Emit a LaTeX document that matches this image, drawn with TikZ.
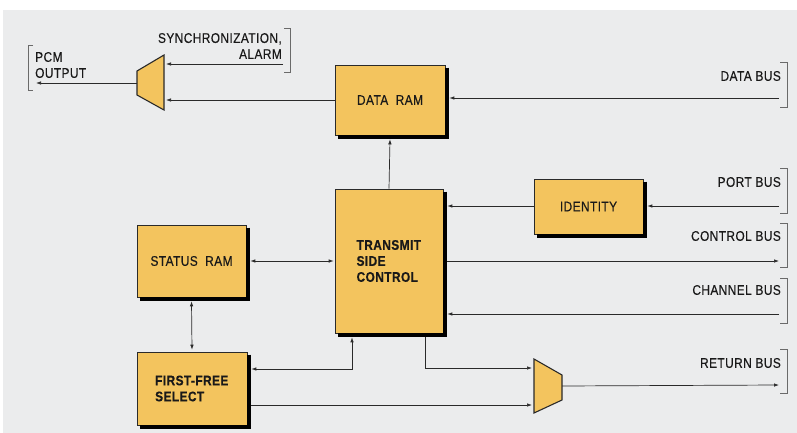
\documentclass[tikz,border=0pt]{standalone}
\usepackage{fontspec}
\setmainfont{Liberation Sans}[FakeStretch=0.85,LetterSpace=3,FakeBold=0.3]
\usetikzlibrary{arrows.meta}
\definecolor{boxfill}{HTML}{F3C45E}
\definecolor{bg}{HTML}{EBECED}
\definecolor{ink}{HTML}{2A2A2A}
\tikzset{
  blk/.style={draw=ink, line width=0.6pt, fill=boxfill, inner sep=0pt, font=\fontsize{14}{16}\selectfont, text=black!90},
  shadowline/.style={draw=black, line width=4pt, line cap=butt, line join=miter},
  conn/.style={draw=ink, line width=0.7pt},
  arr/.style={conn, -{Latex[length=5pt,width=3.5pt]}},
  darr/.style={conn, {Latex[length=5pt,width=3.5pt]}-{Latex[length=5pt,width=3.5pt]}},
  lbl/.style={font=\fontsize{14}{16}\selectfont, text=black!90, inner sep=0pt},
  brk/.style={draw=ink!70, line width=0.6pt},
  mux/.style={draw=ink, line width=1.1pt, fill=boxfill, line join=miter}
}
\begin{document}
\begin{tikzpicture}[x=1pt,y=-1pt]
\useasboundingbox (0,0) rectangle (797,433);
\fill[white] (0,0) rectangle (797,433);
\fill[bg] (3,10) rectangle (797,433);

% blocks
\node[blk, minimum width=110pt, minimum height=70pt] (dataram) at (390,100) {DATA\ \ RAM};
\node[blk, minimum width=108pt, minimum height=144pt, align=left] (tsc) at (389,261) {\textbf{TRANSMIT}\\\textbf{SIDE}\\\textbf{CONTROL}};
\node[blk, minimum width=109pt, minimum height=72pt] (status) at (191.5,261) {STATUS\ \ RAM};
\node[blk, minimum width=110pt, minimum height=73pt, align=left] (ffs) at (192,388.5) {\textbf{FIRST-FREE}\\\textbf{SELECT}};
\node[blk, minimum width=109pt, minimum height=55pt] (identity) at (588.5,206.5) {IDENTITY};

% shadow bands on right and bottom edges
\draw[shadowline] ([xshift=2pt,yshift=-3pt]dataram.north east) |- ([xshift=3pt,yshift=-2pt]dataram.south west);
\draw[shadowline] ([xshift=2pt,yshift=-3pt]tsc.north east) |- ([xshift=3pt,yshift=-2pt]tsc.south west);
\draw[shadowline] ([xshift=2pt,yshift=-3pt]status.north east) |- ([xshift=3pt,yshift=-2pt]status.south west);
\draw[shadowline] ([xshift=2pt,yshift=-3pt]ffs.north east) |- ([xshift=3pt,yshift=-2pt]ffs.south west);
\draw[shadowline] ([xshift=2pt,yshift=-3pt]identity.north east) |- ([xshift=3pt,yshift=-2pt]identity.south west);

% multiplexers
\draw[mux] (137,71) -- (164,55) -- (164,110) -- (137,95) -- cycle;
\coordinate (muxAout) at (137,83);
\coordinate (muxAin1) at (166,64);
\coordinate (muxAin2) at (166,100);
\draw[mux] (534,359) -- (562,375) -- (562,400) -- (534,413) -- cycle;
\coordinate (muxBin1) at (532,368);
\coordinate (muxBin2) at (532,405);
\coordinate (muxBout) at (562,386);

% labels
\node[lbl, anchor=west, align=left] (pcm) at (35,65) {PCM\\OUTPUT};
\node[lbl, anchor=east, align=right] (sync) at (282,46) {SYNCHRONIZATION,\\ALARM};
\node[lbl, anchor=east] (databus) at (781,76) {DATA BUS};
\node[lbl, anchor=east] (portbus) at (781,182) {PORT BUS};
\node[lbl, anchor=east] (controlbus) at (781,236) {CONTROL BUS};
\node[lbl, anchor=east] (channelbus) at (781,290) {CHANNEL BUS};
\node[lbl, anchor=east] (returnbus) at (781,363) {RETURN BUS};

% brackets
\draw[brk] (33,45) -- (28,45) -- (28,90) -- (33,90);
\draw[brk] (284,28) -- (290,28) -- (290,72) -- (284,72);
\draw[brk] (780,62) -- (787,62) -- (787,107) -- (780,107);
\draw[brk] (780,168) -- (787,168) -- (787,213) -- (780,213);
\draw[brk] (780,223) -- (787,223) -- (787,267) -- (780,267);
\draw[brk] (780,278) -- (787,278) -- (787,323) -- (780,323);
\draw[brk] (780,349) -- (787,349) -- (787,393) -- (780,393);

% bus ends
\coordinate (dbEnd) at (779,98);
\coordinate (pbEnd) at (779,206);
\coordinate (cbEnd) at (779,261);
\coordinate (chEnd) at (779,314);
\coordinate (rbEnd) at (779,385);
\coordinate (syncEnd) at (283,64);
\coordinate (pcmEnd) at (36,83);

% connectors
\draw[arr] (muxAout) -- (pcmEnd);
\draw[arr] (syncEnd) -- (muxAin1);
\draw[arr] (dataram.west |- muxAin2) -- (muxAin2);
\draw[arr] (dbEnd) -- ([xshift=4pt]dataram.east |- dbEnd);
\draw[arr] (tsc.north) -- ([yshift=-4pt]dataram.south);
\draw[arr] (pbEnd) -- ([xshift=4pt]identity.east |- pbEnd);
\draw[arr] (identity.west |- pbEnd) -- ([xshift=4pt]tsc.east |- pbEnd);
\draw[arr] ([xshift=4pt]tsc.east |- cbEnd) -- (cbEnd);
\draw[arr] (chEnd) -- ([xshift=4pt]tsc.east |- chEnd);
\draw[darr] ([xshift=4pt]status.east) -- ([xshift=-1pt]tsc.west);
\draw[darr] ([yshift=-4pt]status.south) -- ([yshift=2pt]ffs.north);
\draw[darr] ([xshift=4pt]ffs.east |- 0,369) -- (352,369) -- ([yshift=-4pt]tsc.south -| 352,0);
\draw[arr] ([yshift=-4pt]tsc.south -| 425,0) -- (425,368) -- (muxBin1);
\draw[arr] ([xshift=4pt]ffs.east |- muxBin2) -- (muxBin2);
\draw[arr] (muxBout) -- (rbEnd);
\end{tikzpicture}
\end{document}
